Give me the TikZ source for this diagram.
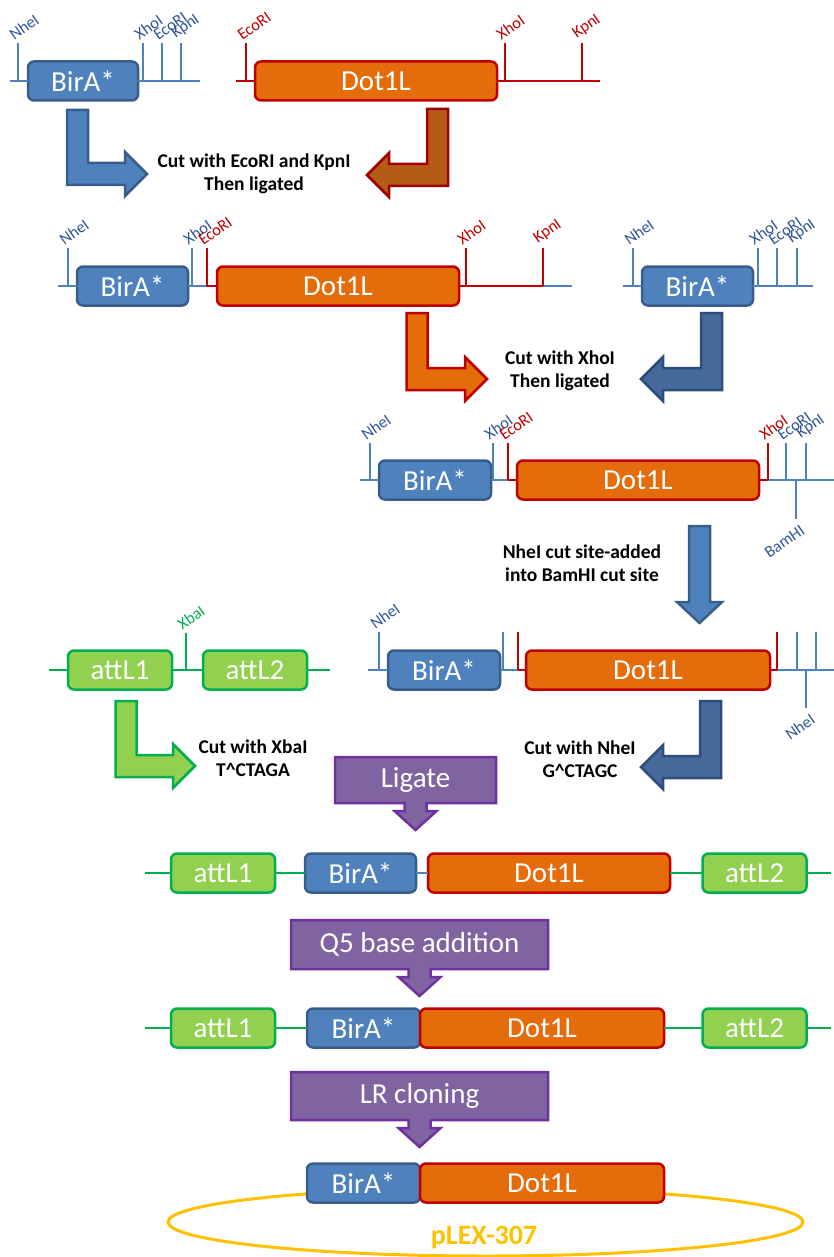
\documentclass[tikz,border=0pt]{standalone}
\usepackage{fontspec}
\setmainfont{Carlito}
\usetikzlibrary{positioning,calc}

\definecolor{boxblue}{HTML}{4F81BD}
\definecolor{edgeblue}{HTML}{385D8A}
\definecolor{lineblue}{HTML}{4F81BD}
\definecolor{labelblue}{HTML}{2F5597}
\definecolor{dotorange}{HTML}{E46C0A}
\definecolor{dotred}{HTML}{C00000}
\definecolor{attgreen}{HTML}{92D050}
\definecolor{linegreen}{HTML}{00B050}
\definecolor{callpurple}{HTML}{8064A2}
\definecolor{calledge}{HTML}{7030A0}
\definecolor{navyfill}{HTML}{44699A}
\definecolor{navyedge}{HTML}{2D4E7B}
\definecolor{brownfill}{HTML}{B65B17}
\definecolor{brownedge}{HTML}{A00000}
\definecolor{plexgold}{HTML}{FFC000}

\newcommand{\genefont}{\fontsize{29}{32}\selectfont}
\newcommand{\sitefont}{\fontsize{16.5}{18}\selectfont}
\newcommand{\notefont}{\fontsize{19.5}{23}\selectfont\bfseries}

\tikzset{
  gene/.style={rounded corners=6pt, line width=2.5pt, minimum height=39, inner sep=0pt, outer sep=0pt, text=white, font=\genefont},
  bira/.style={gene, fill=boxblue, draw=edgeblue},
  dotl/.style={gene, fill=dotorange, draw=dotred},
  attl/.style={gene, fill=attgreen, draw=linegreen},
  dna/.style={line width=2pt},
  blueline/.style={dna, draw=lineblue},
  redline/.style={dna, draw=dotred},
  greenline/.style={dna, draw=linegreen},
  bsite/.style={blueline, text=labelblue},
  rsite/.style={redline, text=dotred},
  gsite/.style={greenline, text=linegreen},
  sitelbl/.style={font=\sitefont, inner sep=0.5pt, anchor=south west, xshift=-4pt, rotate=35},
  downlbl/.style={font=\sitefont, inner sep=0.5pt, anchor=north east, xshift=4pt, yshift=-3pt, rotate=35},
  note/.style={font=\notefont, align=center, text=black},
  block/.style={line width=2.5pt, line join=miter},
  blueblock/.style={block, fill=boxblue, draw=edgeblue},
  navyblock/.style={block, fill=navyfill, draw=navyedge},
  brownblock/.style={block, fill=brownfill, draw=brownedge},
  orangeblock/.style={block, fill=dotorange, draw=dotred},
  greenblock/.style={block, fill=attgreen, draw=linegreen},
  callbox/.style={inner sep=0pt, outer sep=0pt},
  callline/.style={line width=2.5pt, line join=miter, fill=callpurple, draw=calledge},
  calltext/.style={text=white, font=\genefont},
  plexring/.style={line width=3pt, draw=plexgold}
}

\newcommand{\bentblock}[6]{% style, shaft centre, direction, top, row, tip
  \pgfmathsetmacro{\shaftout}{#2-(#3)*10.5}%
  \pgfmathsetmacro{\shaftin}{#2+(#3)*10.5}%
  \pgfmathsetmacro{\headbase}{#6-(#3)*22}%
  \draw[#1] (\shaftout,#4) -- (\shaftin,#4) -- (\shaftin,#5-11) -- (\headbase,#5-11)
    -- (\headbase,#5-22) -- (#6,#5) -- (\headbase,#5+22) -- (\headbase,#5+11)
    -- (\shaftout,#5+11) -- cycle;}

\newcommand{\stepcallout}[6]{% name, x, y, width, height, text
  \node[callbox, minimum width=#4, minimum height=#5] (#1) at (#2,#3) {};
  \draw[callline] (#1.north west) -- (#1.north east) -- (#1.south east)
    -- ($(#1.south)+(11,0)$) -- ++(0,8) -- ++(10,0) -- ($(#1.south)+(0,27)$)
    -- ($(#1.south)+(-21,8)$) -- ++(10,0) -- ($(#1.south)+(-11,0)$) -- (#1.south west) -- cycle;
  \node[calltext] (#1-t) at (#1) {#6};}

\begin{document}
\begin{tikzpicture}[x=1pt, y=-1pt]
\useasboundingbox (0,0) rectangle (834,1257);

% row 1: starting fragments
\node[bira, minimum width=110] (b1) at (83,81) {BirA*};
\node[dotl, minimum width=242] (d1) at (376,81) {Dot1L};
\coordinate (r1a) at (10,81); \coordinate (r1b) at (200,81);
\coordinate (r1c) at (236,81); \coordinate (r1d) at (600,81);
\draw[blueline] (r1a) -- (b1.west) (b1.east) -- (r1b);
\draw[redline] (r1c) -- (d1.west) (d1.east) -- (r1d);
\foreach \x/\s/\t [count=\i] in {18/bsite/NheI, 143/bsite/XhoI, 162/bsite/EcoRI, 181/bsite/KpnI, 246/rsite/EcoRI, 505/rsite/XhoI, 582/rsite/KpnI}
  \draw[\s] (\x,81) -- ++(0,-38) node[sitelbl] (s1-\i) {\t};

\bentblock{blueblock}{77.5}{1}{110}{174}{147}
\bentblock{brownblock}{437.5}{-1}{109}{175}{367}
\node[note] (n1) at (254,174) {Cut with EcoRI and KpnI\\Then ligated};

% row 2
\node[bira, minimum width=111] (b2) at (132.5,286) {BirA*};
\node[dotl, minimum width=242] (d2) at (338,286) {Dot1L};
\node[bira, minimum width=111] (b2r) at (697.5,286) {BirA*};
\coordinate (r2a) at (58,286); \coordinate (r2b) at (207,286);
\coordinate (r2c) at (543,286); \coordinate (r2d) at (572,286);
\coordinate (r2e) at (623,286); \coordinate (r2f) at (813,286);
\draw[blueline] (r2a) -- (b2.west) (b2.east) -- (r2b) (r2c) -- (r2d);
\draw[redline] (r2b) -- (d2.west) (d2.east) -- (r2c);
\draw[blueline] (r2e) -- (b2r.west) (b2r.east) -- (r2f);
\foreach \x/\s/\t [count=\i] in {68/bsite/NheI, 192/bsite/XhoI, 207/rsite/EcoRI, 466/rsite/XhoI, 543/rsite/KpnI, 633/bsite/NheI, 758/bsite/XhoI, 777/bsite/EcoRI, 797/bsite/KpnI}
  \draw[\s] (\x,286) -- ++(0,-38) node[sitelbl] (s2-\i) {\t};

\bentblock{orangeblock}{417}{1}{313}{379}{487}
\bentblock{navyblock}{711.5}{-1}{313}{379}{641}
\node[note] (n2) at (560,371) {Cut with XhoI\\Then ligated};

% row 3
\node[bira, minimum width=112] (b3) at (435,480) {BirA*};
\node[dotl, minimum width=242] (d3) at (638,480) {Dot1L};
\coordinate (r3a) at (360,480); \coordinate (r3b) at (508,480);
\coordinate (r3c) at (768,480); \coordinate (r3d) at (834,480);
\draw[blueline] (r3a) -- (b3.west) (b3.east) -- (r3b) (r3c) -- (r3d);
\draw[redline] (r3b) -- (d3.west) (d3.east) -- (r3c);
\foreach \x/\s/\t [count=\i] in {370/bsite/NheI, 493/bsite/XhoI, 508/rsite/EcoRI, 768/rsite/XhoI, 786/bsite/EcoRI, 806/bsite/KpnI}
  \draw[\s] (\x,480) -- ++(0,-37) node[sitelbl] (s3-\i) {\t};
\draw[bsite] (796,480) -- ++(0,39) node[downlbl] (s3-bam) {BamHI};

\draw[blueblock] (689,526) -- (710,526) -- (710,602) -- (722,602) -- (699.5,623) -- (677,602) -- (689,602) -- cycle;
\node[note] (n3) at (582,563) {NheI cut site-added\\into BamHI cut site};

% row 4
\node[attl, minimum width=104] (a4) at (120,670) {attL1};
\node[attl, minimum width=104] (c4) at (255,670) {attL2};
\node[bira, minimum width=112] (b4) at (444,670) {BirA*};
\node[dotl, minimum width=244] (d4) at (648,670) {Dot1L};
\coordinate (r4a) at (49,670); \coordinate (r4b) at (330,670);
\coordinate (r4c) at (368,670); \coordinate (r4d) at (518,670);
\coordinate (r4e) at (777,670); \coordinate (r4f) at (834,670);
\draw[greenline] (r4a) -- (a4.west) (a4.east) -- (c4.west) (c4.east) -- (r4b);
\draw[blueline] (r4c) -- (b4.west) (b4.east) -- (r4d) (r4e) -- (r4f);
\draw[redline] (r4d) -- (d4.west) (d4.east) -- (r4e);
\draw[gsite] (186,670) -- ++(0,-37) node[sitelbl] (s4-xba) {XbaI};
\draw[bsite] (379,670) -- ++(0,-38) node[sitelbl] (s4-nhe) {NheI};
\foreach \x/\s in {503/bsite, 518/rsite, 777/rsite, 797/bsite, 816/bsite}
  \draw[\s] (\x,670) -- ++(0,-38);
\draw[bsite] (806,670) -- ++(0,38) node[downlbl] (s4-down) {NheI};

\bentblock{greenblock}{126}{1}{701}{766}{195}
\bentblock{navyblock}{710.5}{-1}{701}{767}{641}
\node[note] (n4) at (253,758) {Cut with XbaI\\T\textasciicircum CTAGA};
\node[note] (n5) at (580,759) {Cut with NheI\\G\textasciicircum CTAGC};

\stepcallout{lig}{415.5}{780}{161}{46}{Ligate}

% row 5
\node[attl, minimum width=104] (a5) at (223,873) {attL1};
\node[bira, minimum width=111] (b5) at (360.5,873) {BirA*};
\node[dotl, minimum width=242] (d5) at (549,873) {Dot1L};
\node[attl, minimum width=104] (c5) at (754.5,873) {attL2};
\coordinate (r5a) at (145,873); \coordinate (r5b) at (831,873);
\draw[greenline] (r5a) -- (a5.west) (a5.east) -- (b5.west) (d5.east) -- (c5.west) (c5.east) -- (r5b);
\draw[blueline] (b5.east) -- (d5.west);

\stepcallout{q5}{419.5}{944.5}{257}{49}{Q5 base addition}

% row 6
\node[attl, minimum width=104] (a6) at (223,1028) {attL1};
\node[bira, minimum width=113] (b6) at (363.5,1028) {BirA*};
\node[dotl, minimum width=244, right=0pt of b6] (d6) {Dot1L};
\node[attl, minimum width=104] (c6) at (754.5,1028) {attL2};
\coordinate (r6a) at (145,1028); \coordinate (r6b) at (831,1028);
\draw[greenline] (r6a) -- (a6.west) (a6.east) -- (b6.west) (d6.east) -- (c6.west) (c6.east) -- (r6b);

\stepcallout{lr}{419.5}{1096}{257}{48}{LR cloning}

% row 7: final vector
\draw[plexring] (485.5,1222) ellipse [x radius=317.5, y radius=34];
\node[bira, minimum width=113] (b7) at (363.5,1183) {BirA*};
\node[dotl, minimum width=244, right=0pt of b7] (d7) {Dot1L};
\node[font=\fontsize{28}{30}\selectfont\bfseries, text=plexgold] (plex) at (484,1238) {pLEX-307};
\end{tikzpicture}
\end{document}
